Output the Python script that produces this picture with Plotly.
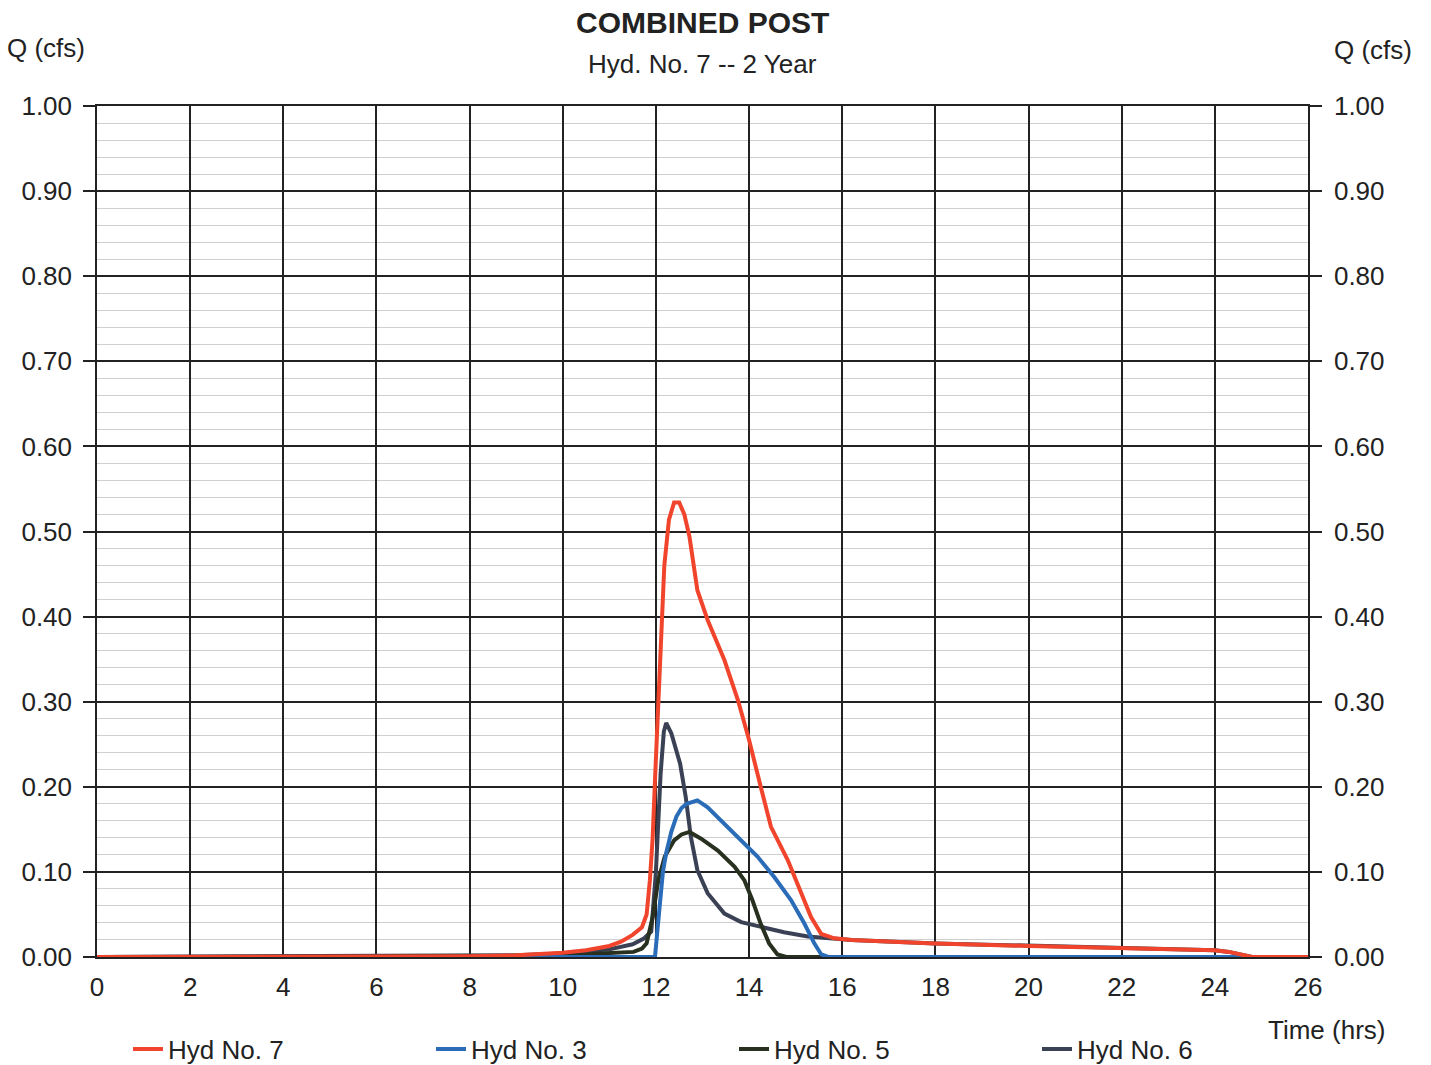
import plotly.graph_objects as go

# ---- data ----
t7 = [0, 2, 4, 6, 8, 9, 10, 10.5, 11, 11.25, 11.5, 11.7, 11.8, 11.87, 11.93, 11.98, 12.03, 12.08,
      12.13, 12.18, 12.28, 12.39, 12.5, 12.61, 12.72, 12.89, 13.11, 13.47, 13.76, 14.0, 14.25,
      14.47, 14.83, 15.1, 15.33, 15.55, 15.83, 16.2, 18, 20, 22, 24, 24.3, 24.8, 26]
q7 = [0, 0, 0, 0.001, 0.001, 0.002, 0.005, 0.008, 0.013, 0.018, 0.026, 0.035, 0.05, 0.09, 0.14,
      0.208, 0.27, 0.325, 0.404, 0.46, 0.514, 0.534, 0.534, 0.52, 0.494, 0.431, 0.396, 0.349,
      0.302, 0.255, 0.2, 0.153, 0.114, 0.078, 0.047, 0.027, 0.022, 0.02, 0.016, 0.013, 0.01,
      0.008, 0.006, 0.0, 0.0]

t3 = [0, 11.98, 12.03, 12.09, 12.15, 12.22, 12.33, 12.44, 12.55, 12.66, 12.89, 13.11, 13.47,
      13.83, 14.18, 14.54, 14.9, 15.19, 15.4, 15.55, 15.7, 26]
q3 = [0, 0, 0.03, 0.071, 0.1, 0.122, 0.147, 0.165, 0.175, 0.18, 0.184, 0.176, 0.157, 0.137,
      0.118, 0.094, 0.067, 0.039, 0.016, 0.003, 0, 0]

t5 = [0, 8, 10, 10.8, 11.52, 11.7, 11.8, 11.93, 12.05, 12.19, 12.39, 12.55, 12.72, 12.97, 13.33,
      13.69, 13.9, 14.07, 14.25, 14.43, 14.61, 14.8, 26]
q5 = [0, 0, 0.001, 0.004, 0.006, 0.01, 0.016, 0.047, 0.09, 0.118, 0.137, 0.144, 0.147, 0.139,
      0.125, 0.106, 0.09, 0.067, 0.039, 0.016, 0.003, 0, 0]

t6 = [0, 6, 8, 9, 10, 10.5, 11, 11.5, 11.75, 11.9, 12.0, 12.1, 12.17, 12.22, 12.33, 12.52, 12.64,
      12.75, 12.89, 13.11, 13.47, 13.83, 14.25, 14.75, 15.26, 15.83, 16.2, 18, 20, 22, 24, 24.3,
      24.8, 26]
q6 = [0, 0.001, 0.001, 0.002, 0.004, 0.006, 0.009, 0.015, 0.022, 0.03, 0.1, 0.215, 0.265, 0.275,
      0.263, 0.227, 0.188, 0.141, 0.102, 0.075, 0.051, 0.041, 0.035, 0.029, 0.024, 0.022, 0.02,
      0.016, 0.013, 0.01, 0.008, 0.006, 0, 0]

x_ticks = [0, 2, 4, 6, 8, 10, 12, 14, 16, 18, 20, 22, 24, 26]
y_ticks = [0.0, 0.1, 0.2, 0.3, 0.4, 0.5, 0.6, 0.7, 0.8, 0.9, 1.0]
y_labels = [f"{v:.2f}" for v in y_ticks]

FONT = "Liberation Sans, Arial, sans-serif"
DARK = "#222222"
FS = 26

fig = go.Figure()
fig.add_trace(go.Scatter(x=t6, y=q6, mode="lines", name="Hyd No. 6",
                         line=dict(color="#3b4154", width=4)))
fig.add_trace(go.Scatter(x=t5, y=q5, mode="lines", name="Hyd No. 5",
                         line=dict(color="#283020", width=4)))
fig.add_trace(go.Scatter(x=t3, y=q3, mode="lines", name="Hyd No. 3",
                         line=dict(color="#2a6cb8", width=4)))
fig.add_trace(go.Scatter(x=t7, y=q7, mode="lines", name="Hyd No. 7",
                         line=dict(color="#f0452c", width=4)))
# invisible trace to activate right axis
fig.add_trace(go.Scatter(x=[0], y=[0], yaxis="y2", mode="lines", showlegend=False,
                         line=dict(width=0), hoverinfo="skip"))

fig.update_layout(
    width=1431, height=1065,
    margin=dict(l=97, r=123, t=106, b=108),
    paper_bgcolor="white", plot_bgcolor="white",
    font=dict(family=FONT, size=FS, color=DARK),
    showlegend=True,
    legend=dict(orientation="h", traceorder="reversed",
                xref="container", x=128 / 1431, xanchor="left",
                yref="container", y=16 / 1065, yanchor="middle",
                entrywidth=258, entrywidthmode="pixels",
                font=dict(size=FS, color=DARK), bgcolor="rgba(0,0,0,0)"),
    xaxis=dict(range=[0, 26], tickvals=x_ticks, ticktext=[str(v) for v in x_ticks],
               showgrid=True, gridcolor=DARK, gridwidth=1.5, zeroline=False,
               showline=True, linecolor=DARK, linewidth=1.5, mirror=True,
               ticks="", ticklabelstandoff=6, tickfont=dict(size=FS)),
    yaxis=dict(range=[0, 1.0], tickvals=y_ticks, ticktext=y_labels,
               showgrid=True, gridcolor=DARK, gridwidth=1.5, zeroline=False,
               showline=True, linecolor=DARK, linewidth=1.5,
               ticks="outside", ticklen=12, tickwidth=1.5, tickcolor=DARK,
               ticklabelstandoff=6, tickfont=dict(size=FS),
               minor=dict(dtick=0.02, tick0=0, showgrid=True, gridcolor="#cfcfcf",
                          gridwidth=1, ticks="")),
    yaxis2=dict(range=[0, 1.0], tickvals=y_ticks, ticktext=y_labels, overlaying="y",
                side="right", showgrid=False, zeroline=False, showline=True,
                linecolor=DARK, linewidth=1.5,
                ticks="outside", ticklen=12, tickwidth=1.5, tickcolor=DARK,
                ticklabelstandoff=7, tickfont=dict(size=FS)),
    annotations=[
        dict(text="<b>COMBINED POST</b>", x=0.5, y=1.0, xref="paper", yref="paper",
             yshift=84, showarrow=False, font=dict(size=30, color=DARK),
             xanchor="center", yanchor="middle"),
        dict(text="Hyd. No. 7 -- 2 Year", x=0.5, y=1.0, xref="paper", yref="paper",
             yshift=42, showarrow=False, font=dict(size=FS, color=DARK),
             xanchor="center", yanchor="middle"),
        dict(text="Q (cfs)", x=0, y=1.0, xref="paper", yref="paper", xshift=-51, yshift=58,
             showarrow=False, font=dict(size=FS, color=DARK), xanchor="center",
             yanchor="middle"),
        dict(text="Q (cfs)", x=1, y=1.0, xref="paper", yref="paper", xshift=65, yshift=56,
             showarrow=False, font=dict(size=FS, color=DARK), xanchor="center",
             yanchor="middle"),
        dict(text="Time (hrs)", x=1, y=0, xref="paper", yref="paper", xshift=18, yshift=-73,
             showarrow=False, font=dict(size=FS, color=DARK), xanchor="center",
             yanchor="middle"),
    ],
)

fig.write_html("out.html")
